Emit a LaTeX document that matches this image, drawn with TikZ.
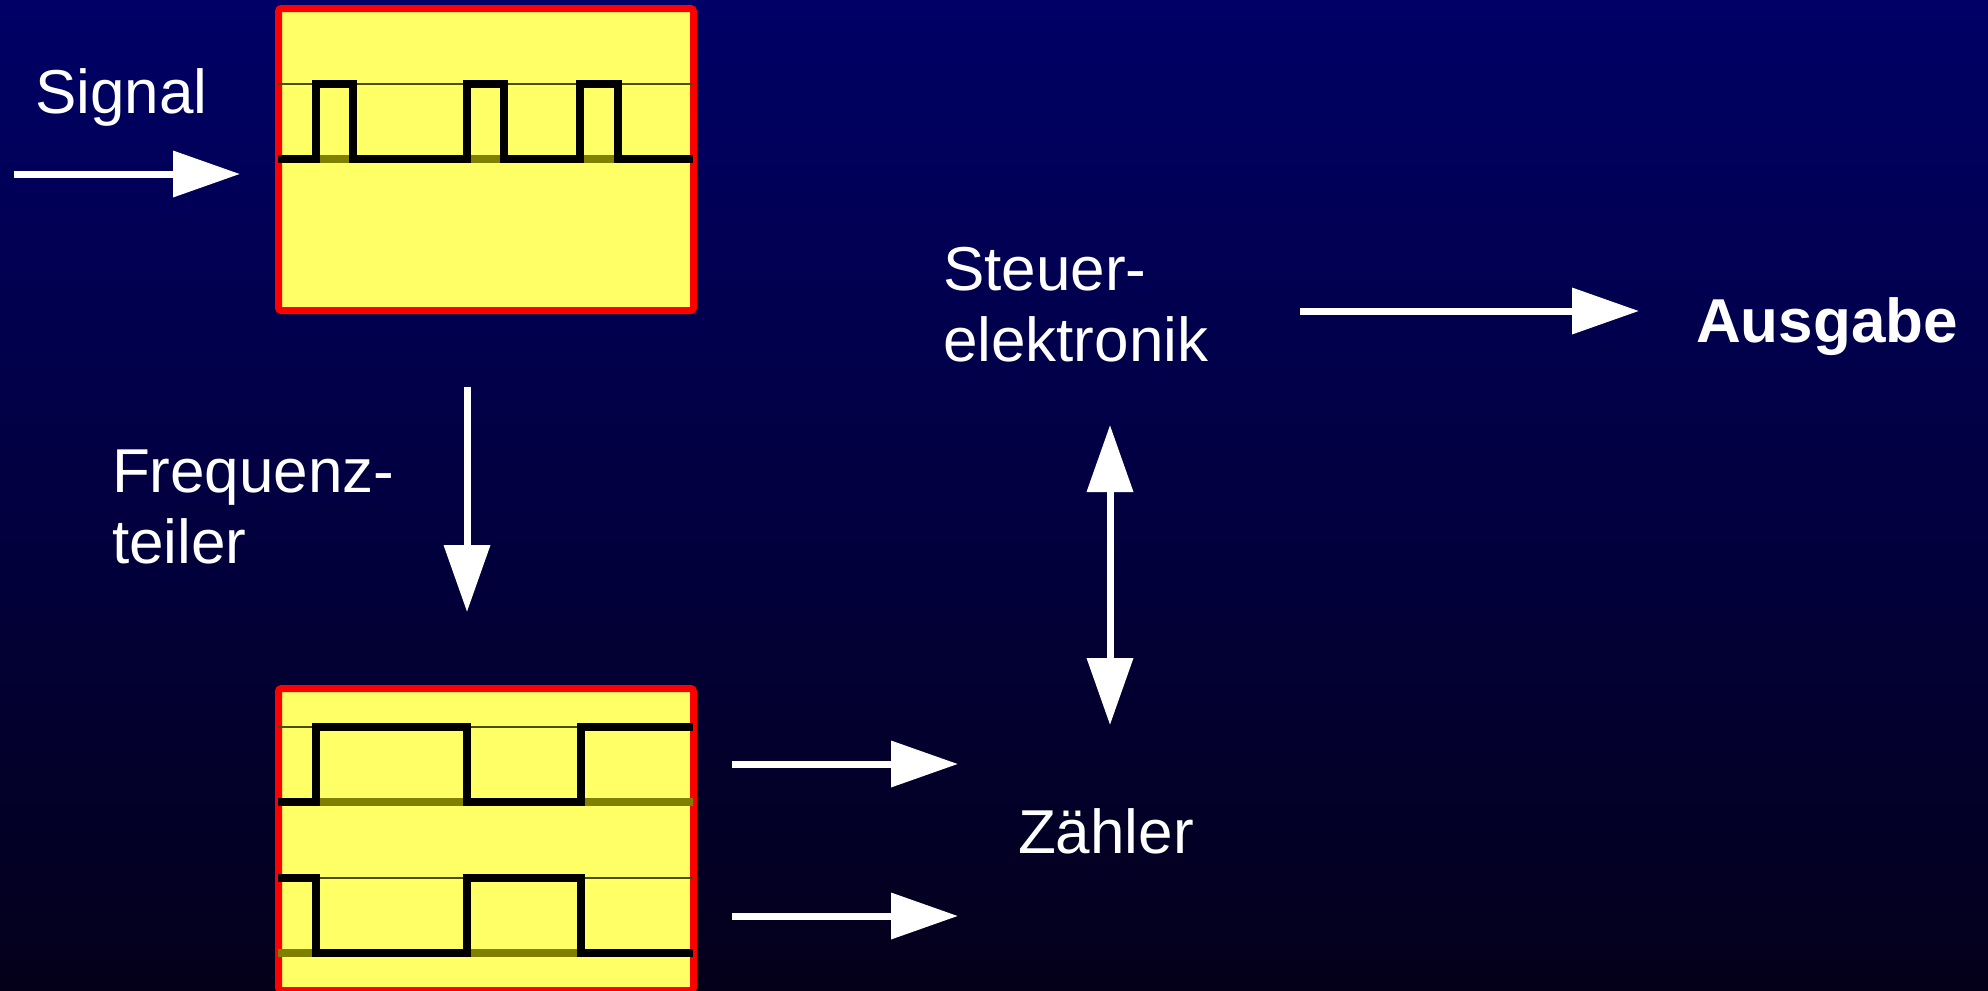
\documentclass[tikz,border=0pt]{standalone}
\usepackage{fontspec}
\setmainfont{Liberation Sans}
\usetikzlibrary{arrows.meta}
\definecolor{bgoben}{RGB}{0,0,102}
\definecolor{bgunten}{RGB}{4,0,26}
\definecolor{kastengelb}{RGB}{255,255,102}
\definecolor{kastenrot}{RGB}{255,0,0}
\definecolor{oliv}{RGB}{128,128,0}
\tikzstyle{pfeil} = [draw=white, line width=3.5pt, ->]
\tikzstyle{doppelpfeil} = [draw=white, line width=3.5pt, <->]
\tikzstyle{kasten} = [draw=kastenrot, fill=kastengelb, line width=3.5pt, rounded corners=1.5pt, minimum width=207.5pt, minimum height=151pt]
\tikzstyle{puls} = [draw=black, line width=4pt]
\tikzstyle{beschr} = [anchor=base west, align=left, text=white]

\begin{document}
\begin{tikzpicture}[x=0.5pt, y=-0.5pt, inner sep=0pt, outer sep=0pt,
			>={Triangle[length=33.5pt,width=22.5pt]},   % Pfeilspitzen
			font=\fontsize{31}{35.5}\selectfont]
			% Hintergrund
			\shade[top color=bgoben, bottom color=bgunten] (0,0) rectangle (1988,991);
			\clip (0,0) rectangle (1988,991);
			% Kaesten
			\node[kasten] (eingang) at (486,159.5) {};
			\node[kasten] (teilung) at (486,839.5) {};
			% Hilfslinien und Grundlinien
			\foreach \hoch/\tief in {84/159,727/802,878/953}{
				\draw[oliv!60!black, line width=0.7pt] (278,\hoch) -- (693,\hoch);
				\draw[oliv, line width=4pt] (278,\tief) -- (693,\tief);
			}
			% Signalverlaeufe
			\draw[puls] (278,159) -| (316,84) -| (353,159) -| (467,84) -| (504,159) -| (580,84) -| (618,159) -- (693,159);
			\draw[puls] (278,802) -| (316,727) -| (467,802) -| (581,727) -- (693,727);
			\draw[puls] (278,878) -| (316,953) -| (467,878) -| (581,953) -- (693,953);
			% Beschriftung (base = Grundlinie der letzten Zeile)
			\node[beschr] (signal) at (35,113) {Signal};
			\node[beschr] (teiler) at (112,563) {Frequenz-\\teiler};
			\node[beschr] (steuer) at (943,361) {Steuer-\\elektronik};
			\node[beschr] (zaehler) at (1018,853) {Zähler};
			\node[beschr, font=\fontsize{31}{35.5}\selectfont\bfseries] (ausgabe) at (1696,342) {Ausgabe};
			% Pfeile
			\coordinate (sigA) at (14,174);     \coordinate (sigE) at (240,174);
			\coordinate (teilA) at (467,387);   \coordinate (teilE) at (467,612);
			\coordinate (zA1) at (732,764);     \coordinate (zE1) at (958,764);
			\coordinate (zA2) at (732,916);     \coordinate (zE2) at (958,916);
			\coordinate (stO) at (1110,425);    \coordinate (stU) at (1110,725);
			\coordinate (ausA) at (1300,311);   \coordinate (ausE) at (1639,311);
			\draw[pfeil] (sigA) -- (sigE);
			\draw[pfeil] (teilA) -- (teilE);
			\draw[pfeil] (zA1) -- (zE1);
			\draw[pfeil] (zA2) -- (zE2);
			\draw[doppelpfeil] (stO) -- (stU);
			\draw[pfeil] (ausA) -- (ausE);
		\end{tikzpicture}
\end{document}
